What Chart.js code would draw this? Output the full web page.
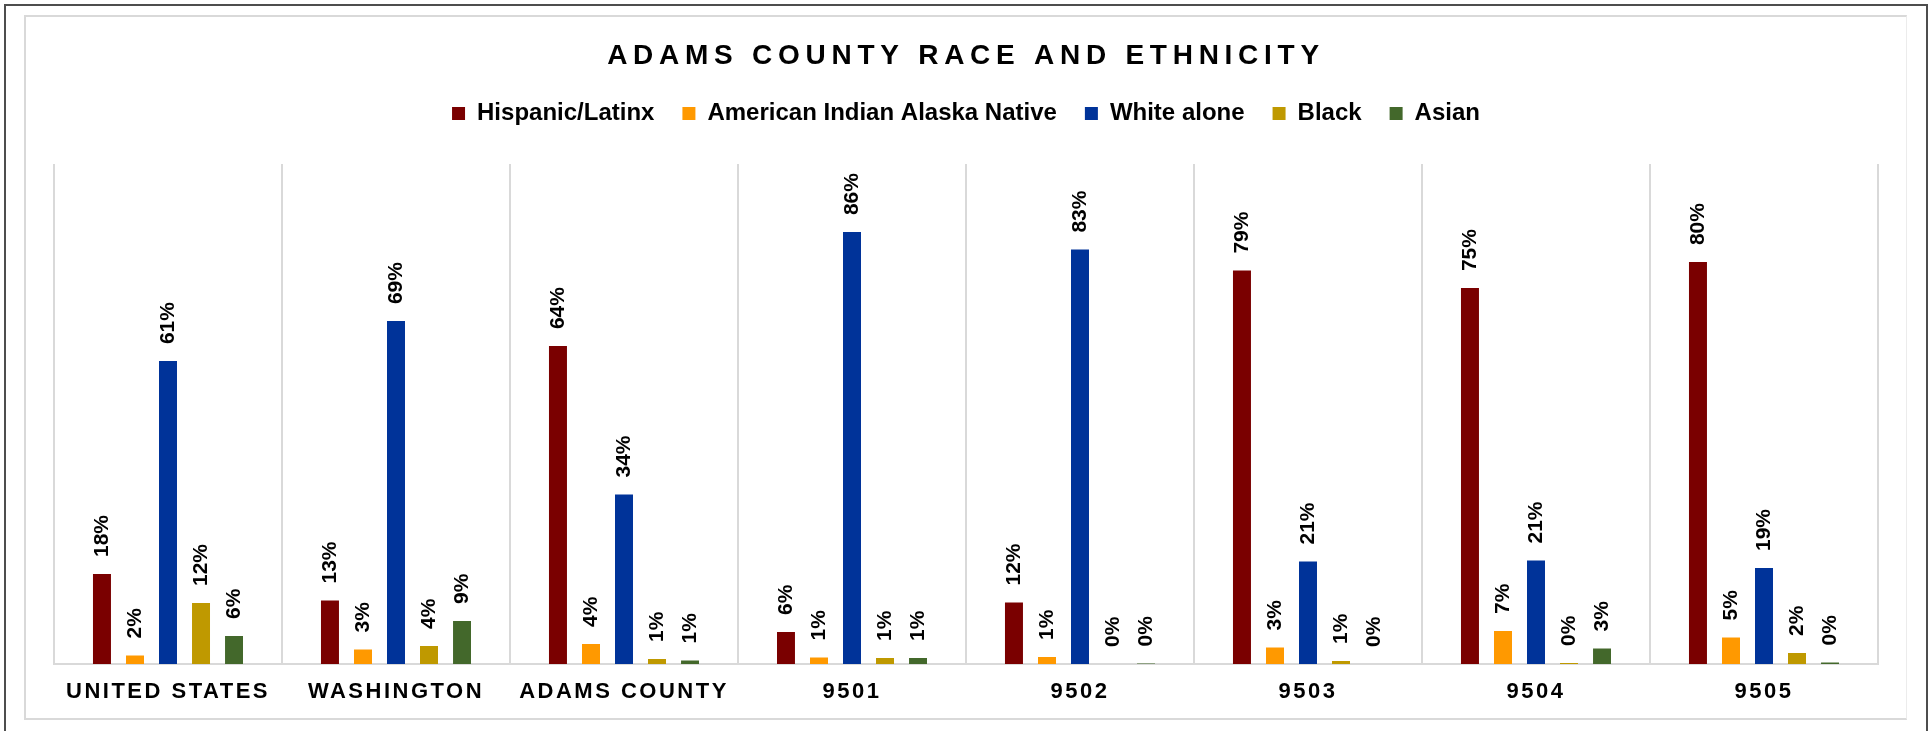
<!DOCTYPE html>
<html>
<head>
<meta charset="utf-8">
<script src="https://cdn.jsdelivr.net/npm/chart.js@4.4.1/dist/chart.umd.min.js"></script>
<style>
  html, body { margin: 0; padding: 0; background: #fff; overflow: hidden; }
  #outer { position: absolute; left: 4px; top: 4px; width: 1924px; height: 800px; box-sizing: border-box; border: 2px solid #4d4d4d; }
  #inner { position: absolute; left: 24px; top: 15px; width: 1883px; height: 705px; box-sizing: border-box; border: 2px solid #d9d9d9; border-right: 1px solid #ececec; }
  #wrap { position: absolute; left: 0; top: 0; width: 1929px; height: 731px; }
</style>
</head>
<body>
<div id="outer"></div>
<div id="inner"></div>
<div id="wrap"><canvas id="chart"></canvas></div>
<script>
// ── data (percent of population) ──
const categories = ['UNITED STATES', 'WASHINGTON', 'ADAMS COUNTY', '9501', '9502', '9503', '9504', '9505'];
const hispanic = [18.0, 12.7, 63.6, 6.4, 12.3, 78.7, 75.2, 80.4];
const aian     = [1.7, 2.9, 4.0, 1.3, 1.4, 3.3, 6.6, 5.3];
const white    = [60.6, 68.6, 33.9, 86.4, 82.9, 20.5, 20.7, 19.2];
const black    = [12.2, 3.6, 1.0, 1.2, 0, 0.6, 0.2, 2.2];
const asian    = [5.6, 8.6, 0.7, 1.2, 0.1, 0, 3.1, 0.3];

const seriesNames  = ['Hispanic/Latinx', 'American Indian Alaska Native', 'White alone', 'Black', 'Asian'];
const seriesColors = ['#7a0000', '#ff9900', '#003399', '#bf9900', '#43682b'];

const FONT = '"Liberation Sans", Arial, sans-serif';
const TITLE_TEXT = 'ADAMS COUNTY RACE AND ETHNICITY';

// use a narrow face for the title when one is installed
const probe = document.createElement('canvas').getContext('2d');
probe.font = 'bold 31px "Liberation Sans Narrow", monospace';
const wNarrow = probe.measureText(TITLE_TEXT).width;
probe.font = 'bold 31px monospace';
const hasNarrow = Math.abs(wNarrow - probe.measureText(TITLE_TEXT).width) > 1;
const titleFont = hasNarrow
  ? { family: '"Liberation Sans Narrow", ' + FONT, size: 31, weight: 'bold' }
  : { family: FONT, size: 28, weight: 'bold' };
probe.font = 'bold ' + titleFont.size + 'px ' + titleFont.family;
const titleSpacing = Math.max(0, (712 - probe.measureText(TITLE_TEXT).width) / 30);

// rotated % labels above every bar
const barLabels = {
  id: 'barLabels',
  afterDatasetsDraw(chart) {
    const ctx = chart.ctx;
    ctx.save();
    ctx.font = 'bold 21px ' + FONT;
    ctx.fillStyle = '#000';
    ctx.textAlign = 'left';
    ctx.textBaseline = 'middle';
    chart.data.datasets.forEach((ds, i) => {
      chart.getDatasetMeta(i).data.forEach((bar, j) => {
        ctx.save();
        ctx.translate(bar.x, bar.y - 17);
        ctx.rotate(-Math.PI / 2);
        ctx.fillText(Math.round(ds.data[j]) + '%', 0, 0);
        ctx.restore();
      });
    });
    ctx.restore();
  }
};

// letter spacing for title and category labels
const spacedText = {
  id: 'spacedText',
  beforeDraw(chart) {
    const wrap = (obj, fn, ls) => {
      if (!obj || obj['_ls_' + fn]) return;
      const orig = obj[fn];
      obj[fn] = function (...args) {
        const c = chart.ctx;
        c.save();
        c.letterSpacing = ls;
        orig.apply(this, args);
        c.restore();
      };
      obj['_ls_' + fn] = true;
    };
    wrap(chart.titleBlock, 'draw', titleSpacing.toFixed(2) + 'px');
    wrap(chart.scales.x, 'drawLabels', '2.5px');
  }
};

const datasets = [hispanic, aian, white, black, asian].map((d, i) => ({
  label: seriesNames[i],
  data: d,
  backgroundColor: seriesColors[i],
  borderWidth: 0,
  categoryPercentage: 0.724,
  barPercentage: 0.545
}));

new Chart(document.getElementById('chart'), {
  type: 'bar',
  data: { labels: categories, datasets },
  plugins: [barLabels, spacedText],
  options: {
    responsive: true,
    maintainAspectRatio: false,
    animation: false,
    layout: { padding: { left: 54, right: 51, top: 0, bottom: 0 } },
    plugins: {
      title: {
        display: true,
        text: TITLE_TEXT,
        color: '#000',
        font: titleFont,
        padding: { top: 39, bottom: 34.6 - titleFont.size * 1.2 }
      },
      legend: {
        position: 'top',
        labels: {
          color: '#000',
          font: { family: FONT, size: 24, weight: 'bold' },
          boxWidth: 13,
          boxHeight: 13,
          padding: 28
        }
      },
      tooltip: { enabled: false }
    },
    scales: {
      x: {
        grid: { offset: true, color: '#d9d9d9', lineWidth: 2, drawTicks: false },
        border: { color: '#d9d9d9', width: 2 },
        ticks: {
          color: '#000',
          font: { family: FONT, size: 22, weight: 'bold' },
          padding: 15,
          autoSkip: false,
          maxRotation: 0
        },
        afterFit: s => { s.height = 67; }
      },
      // empty spacer between legend and plot
      x2: {
        type: 'category',
        position: 'top',
        grid: { display: false },
        border: { display: false },
        ticks: { display: false },
        afterFit: s => { s.height = 28.5; }
      },
      y: { display: false, min: 0, max: 100 }
    }
  }
});
</script>
</body>
</html>
